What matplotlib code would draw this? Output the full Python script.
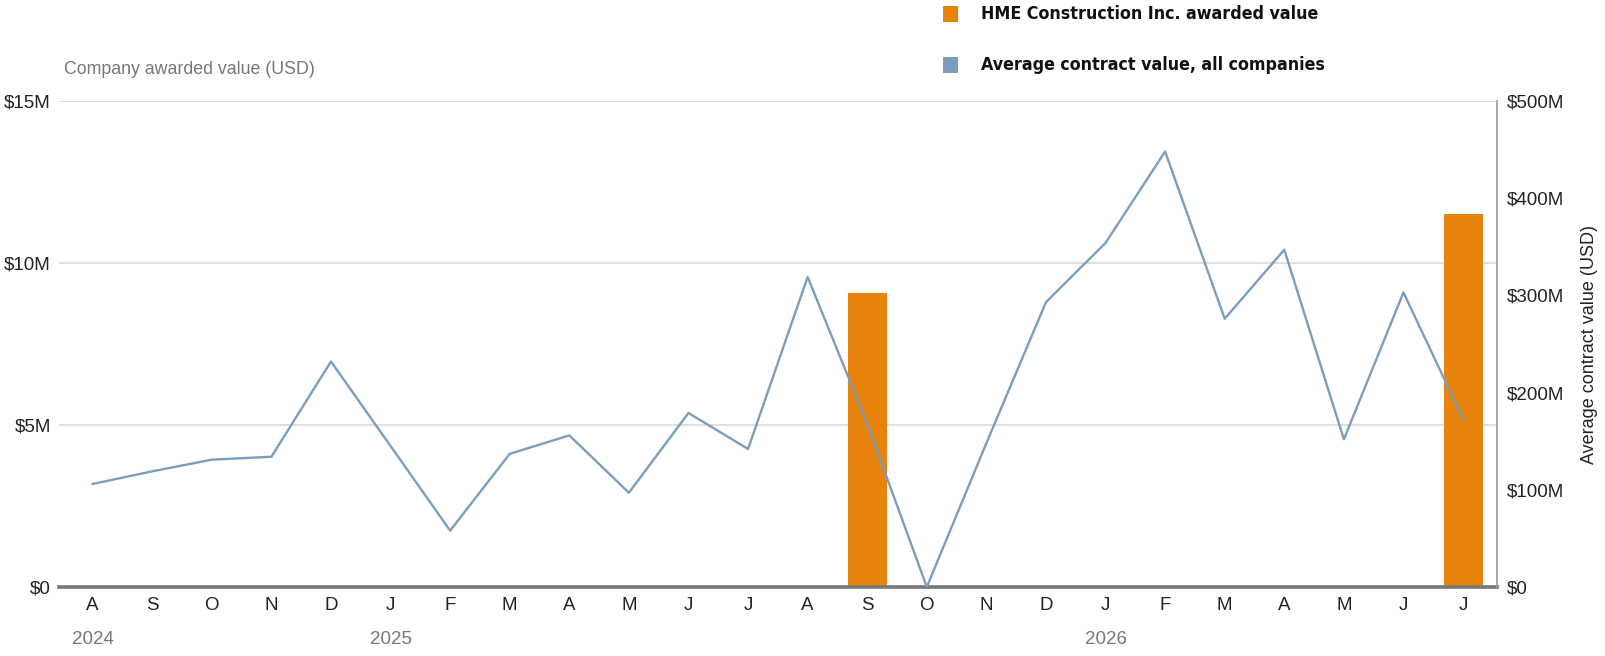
import matplotlib
matplotlib.use("Agg")
import matplotlib.pyplot as plt
from matplotlib.patches import Rectangle
import numpy as np

# ─── Data ─────────────────────────────────────────────────────────────────────
months = ["A", "S", "O", "N", "D", "J", "F", "M", "A", "M", "J", "J",
          "A", "S", "O", "N", "D", "J", "F", "M", "A", "M", "J", "J"]
years = ["2024", "2025", "2026"]
year_idx = [0, 5, 17]

# HME Construction awarded value, $M (left axis)
hme_value = [0, 0, 0, 0, 0, 0, 0, 0, 0, 0, 0, 0,
             0, 9.07, 0, 0, 0, 0, 0, 0, 0, 0, 0, 11.51]
# Average contract value, all companies, $M (right axis)
avg_value = [106, 119, 131, 134, 232, 145, 58, 137, 156, 97, 179, 142,
             319, 168, 0, 148, 293, 354, 448, 276, 347, 152, 303, 173]

left_ticks = [0, 5, 10, 15]
right_ticks = [0, 100, 200, 300, 400, 500]

ORANGE = "#E8830C"
BLUE = "#7C9DBC"
GRID = "#D9D9D9"
GREY_TXT = "#777777"
DARK = "#222222"
FONT = "Liberation Sans"

W, H = 1606, 656
fig = plt.figure(figsize=(W / 100, H / 100), dpi=100)
ax = fig.add_axes([59.3 / W, (H - 587) / H, (1497 - 59.3) / W, (587 - 101) / H])
ax2 = ax.twinx()

x = np.arange(len(months))

# bars (left axis)
ax.bar(x, hme_value, width=0.655, color=ORANGE, zorder=2)
ax.set_ylim(0, 15)
ax.set_xlim(-0.56, 23.57)
ax.set_yticks(left_ticks)
ax.set_yticklabels(["$0", "$5M", "$10M", "$15M"])
ax.yaxis.grid(True, color=GRID, lw=1.2, zorder=0)
ax.set_axisbelow(True)
ax.set_xticks(x)
ax.set_xticklabels(months)
ax.tick_params(axis="x", length=0, pad=7, labelsize=13.5, labelcolor=DARK)
ax.tick_params(axis="y", length=0, pad=6, labelsize=13.5, labelcolor=DARK)
for lab in ax.get_xticklabels() + ax.get_yticklabels():
    lab.set_family(FONT)

for s in ["top", "left", "right"]:
    ax.spines[s].set_visible(False)
ax.spines["bottom"].set_color("#777777")
ax.spines["bottom"].set_linewidth(2.6)
ax.spines["bottom"].set_zorder(5)

# line (right axis)
ax2.plot(x, avg_value, color=BLUE, lw=1.7, zorder=3)
ax2.set_ylim(0, 500)
ax2.set_yticks(right_ticks)
ax2.set_yticklabels(["$0", "$100M", "$200M", "$300M", "$400M", "$500M"])
ax2.tick_params(axis="y", length=0, pad=7, labelsize=13.5, labelcolor=DARK)
for lab in ax2.get_yticklabels():
    lab.set_family(FONT)
for s in ["top", "left", "bottom"]:
    ax2.spines[s].set_visible(False)
ax2.spines["right"].set_color("#999999")
ax2.spines["right"].set_linewidth(1.2)
ax2.set_ylabel("Average contract value (USD)", family=FONT, fontsize=13,
               color=DARK, labelpad=12)

# year labels under the month ticks
for yr, i in zip(years, year_idx):
    ax.text(i, -(639 - 587) / (587 - 101), yr, transform=ax.get_xaxis_transform(),
            ha="center", va="center", family=FONT, fontsize=13.5, color=GREY_TXT)

# left axis title
fig.text(64 / W, 1 - 70 / H, "Company awarded value (USD)", family=FONT,
         fontsize=12.8, color=GREY_TXT, ha="left", va="center")

# legend
legend_items = [("HME Construction Inc. awarded value", ORANGE, 14),
                ("Average contract value, all companies", BLUE, 65)]
for label, col, yc in legend_items:
    fig.add_artist(Rectangle((943 / W, 1 - (yc + 8) / H), 15 / W, 16 / H,
                             transform=fig.transFigure, color=col, lw=0))
    fig.text(981 / W, 1 - yc / H, label, family="DejaVu Sans",
             fontstretch="condensed", fontweight="bold", fontsize=12.8,
             color="#111111", ha="left", va="center")

fig.savefig("out.png", dpi=100)
